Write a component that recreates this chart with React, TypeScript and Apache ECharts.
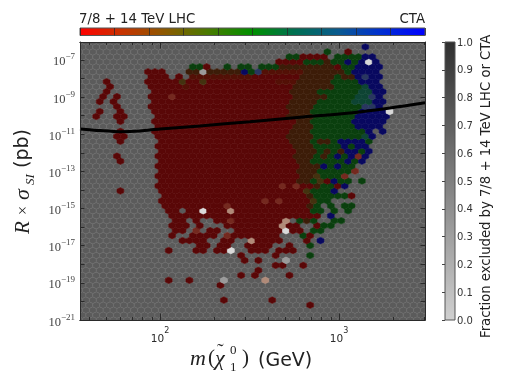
import React, { useEffect, useRef } from "react";
import * as echarts from "echarts";

// Fraction classes of a hexagonal bin ('.' is an empty bin)
const binColours: Record<string, string> = {
  ".": "#5b5b5b", r: "#590707", m: "#531006", d: "#3c1c08", o: "#43320f", g: "#0a3f0e",
  t: "#0e4434", n: "#08085f", s: "#293660", w: "#d9d9d9", l: "#9a9a9a", p: "#b08a78", q: "#74291f",
};

// Bins: lattice row (0 = bottom), then runs of columns and their class
const binRows: [number, string][] = [
  [55, "41n"],
  [54, "36g 39r"],
  [53, "30-31g 32-35r 37-40g 41-42n"],
  [52, "29-32r 33-35g 36d 37-38g 39n 40g 41n 42w 43n"],
  [51, "16-17g 18r 21g 23-24g 26-28g 29-36d 37r 38-39g 40-43n"],
  [50, "10-12r 16-17d 18l 19-23d 24n 25g 26s 27-32m 33-38d 39g 40-43n"],
  [49, "10-12r 14r 16-24m 25-31r 32-36d 37g 38d 39d 40n 41s 42-43n"],
  [48, "4r 10-14r 15o 16-17r 18o 19-28r 29-31m 32-36d 37-40g 41-43n"],
  [47, "4r 10-14r 15m 16-30r 31-36d 37-40g 41t 42-43n"],
  [46, "4r 11-30r 31-34d 35-40g 41-42t 43-44n"],
  [45, "3r 5r 10-12r 13q 14-30r 31-35d 36-39g 40-41t 42s 43n"],
  [44, "3r 5r 11-30r 31-34d 35-39g 40-42t 43-44n"],
  [43, "5r 10-29r 30-33d 34-40g 41-42s 43n"],
  [42, "3r 6r 11-30r 31-33d 34-40g 41-44n 45w"],
  [41, "2r 5-6r 11-29r 30-33d 34-39g 40-44n"],
  [40, "6r 11-31r 32-33d 34-39g 40-44n"],
  [39, "11-30r 31-33d 34-39g 40-43n"],
  [38, "6r 11-30r 31-33d 34-41g 42n 44n"],
  [37, "5-6r 11-29r 30-33d 34-40g 41t 42n"],
  [36, "6r 12-30r 31-33d 34g 35-36d 37g 38-41n 42g"],
  [35, "11-30r 31-33d 34-37g 38n 39g 40-41n"],
  [34, "12-31r 32-34d 35g 36d 37g 38d 39-40n 41g 42n"],
  [33, "5r 11-30r 31-33d 34g 35d 36g 37n 38g 39n 40q 41n"],
  [32, "6r 12-31r 32-33d 34-38g 39n 40g 41n"],
  [31, "11-31r 32-34d 35n 36g 37n 38-39g"],
  [30, "12-31r 32-34d 35-39g 40q"],
  [29, "11-31r 32-33d 34o 35-37g 38q"],
  [28, "12-31r 32-33d 34g 35o 36r 37n 38-39g 41g"],
  [27, "11-28r 29q 30r 31q 32-33r 34d 35-36g 37r 38n"],
  [26, "6r 12-32r 33o 34-36g 37n"],
  [25, "12-32r 33d 34-38g 39r"],
  [24, "12-26r 27q 28r 29q 30-33r 34o 35-36g"],
  [23, "12-20r 21q 22-32r 33d 34g 36g 38-39g"],
  [22, "13-14r 16-17r 18w 19-21r 22p 23-33r 34-35g 37g 39g"],
  [21, "13-34r 36n"],
  [20, "14-15r 17r 20-21r 22q 23-29r 30p 32g 33d 34g 37-38g"],
  [19, "13-15r 17r 21-28r 29p 30-31r 34r 35-36g"],
  [18, "14-15r 17q 19-20r 23-29r 30w 31-32r 34-35g"],
  [17, "13r 16-19r 21q 22-28r 32g 33r"],
  [16, "15-18r 21-22r 25p 26-29r 33r 35n"],
  [15, "17-18r 20-21r 24-27r 30r 33g"],
  [14, "13r 17-18r 20-21r 22w 25-27r 29-31r"],
  [13, "23r 28r 33g"],
  [12, "24r 26r 30l"],
  [11, "28-29r 32r"],
  [10, "26r"],
  [9, "23r 25r 30r"],
  [8, "13r 16r 21l 27p"],
  [7, "20r"],
  [4, "21r 28r"],
  [3, "33r"],
];

// Exclusion limit curve: mass (GeV), log10 of R x sigma (pb)
const limitMass = [35.7, 46.2, 59.8, 77.3, 100, 167, 318, 605, 1151, 1928, 3020];
const limitLogSigma = [-10.71, -10.8, -10.86, -10.82, -10.71, -10.55, -10.32, -10.08, -9.85, -9.58, -9.3];

const massMajorTicks = [100, 1000];
const massMinorTicks = [40, 50, 60, 70, 80, 90, 200, 300, 400, 500, 600, 700, 800, 900, 2000, 3000];
const sigmaTicks = [1e-7, 1e-8, 1e-9, 1e-10, 1e-11, 1e-12, 1e-13, 1e-14, 1e-15, 1e-16, 1e-17, 1e-18, 1e-19, 1e-20, 1e-21];
const sigmaLabels = [1e-7, 1e-9, 1e-11, 1e-13, 1e-15, 1e-17, 1e-19, 1e-21];

const MASS_MIN = 35.7, MASS_MAX = 3020, SIGMA_MIN = 1e-21, SIGMA_MAX = 9.3e-7;
const COLS = 50, LATTICE_ROWS = 28;

const SANS = "DejaVu Sans", SERIF = "Liberation Serif";
const INK = "#2a2a2a";

function buildBins() {
  const lookup = new Map<string, string>();
  for (const [row, spec] of binRows) {
    for (const run of spec.split(" ")) {
      const m = run.match(/^(\d+)(?:-(\d+))?([a-z])$/)!;
      const a = +m[1], b = m[2] ? +m[2] : a;
      for (let c = a; c <= b; c++) lookup.set(row + ":" + c, m[3]);
    }
  }
  const lx0 = Math.log10(MASS_MIN) - 1 / 179, lxs = (Math.log10(MASS_MAX) - Math.log10(MASS_MIN)) / COLS;
  const ly0 = Math.log10(SIGMA_MIN), lys = (Math.log10(SIGMA_MAX) - ly0) / (LATTICE_ROWS * 2);
  const cells: [number, number, string][] = [];
  for (let row = 0; row <= LATTICE_ROWS * 2; row++) {
    for (let c = 0; c <= COLS; c++) {
      const key = lookup.get(row + ":" + c) ?? ".";
      cells.push([10 ** (lx0 + (c + (row % 2) * 0.5) * lxs), 10 ** (ly0 + row * lys), key]);
    }
  }
  // empty bins first so that coloured ones sit on top
  return cells.sort((a, b) => (a[2] === "." ? 0 : 1) - (b[2] === "." ? 0 : 1));
}

function massAxis(position: string, values: number[], length: number, labelled: boolean) {
  return {
    type: "log", logBase: 10, gridIndex: 0, position, min: MASS_MIN, max: MASS_MAX, z: 6,
    axisLine: { show: true, onZero: false, lineStyle: { color: INK, width: 1 } },
    axisTick: { show: true, inside: true, length, customValues: values, lineStyle: { color: INK, width: 1 } },
    minorTick: { show: false }, splitLine: { show: false },
    axisLabel: labelled
      ? {
          show: true, customValues: values, margin: 6, hideOverlap: false,
          formatter: (v: number) => `{b|10}{s|${Math.round(Math.log10(v))}}`,
          rich: {
            b: { fontFamily: SANS, fontSize: 10.5, color: INK, lineHeight: 17, verticalAlign: "bottom" },
            s: { fontFamily: SANS, fontSize: 8, color: INK, lineHeight: 17, verticalAlign: "top" },
          },
        }
      : { show: false },
  };
}

function sigmaAxis(position: string, labelled: boolean) {
  return {
    type: "log", logBase: 10, gridIndex: 0, position, min: SIGMA_MIN, max: SIGMA_MAX, z: 6,
    axisLine: { show: true, onZero: false, lineStyle: { color: INK, width: 1 } },
    axisTick: { show: true, inside: true, length: 4.5, customValues: sigmaTicks, lineStyle: { color: INK, width: 1 } },
    minorTick: { show: false }, splitLine: { show: false },
    axisLabel: labelled
      ? {
          show: true, customValues: sigmaLabels, margin: 5, hideOverlap: false, align: "right",
          formatter: (v: number) => `{b|10}{s|\u2212${Math.abs(Math.round(Math.log10(v)))}}`,
          rich: {
            b: { fontFamily: SERIF, fontSize: 12.5, color: "#444", lineHeight: 16, verticalAlign: "bottom" },
            s: { fontFamily: SERIF, fontSize: 9, color: "#444", lineHeight: 16, verticalAlign: "top" },
          },
        }
      : { show: false },
  };
}

let binKeys: string[] = [];

function renderHex(params: any, api: any) {
  const p = api.coord([api.value(0), api.value(1)]);
  const sx = params.coordSys.width / COLS, sy = params.coordSys.height / LATTICE_ROWS;
  const code = binKeys[params.dataIndex];
  const fill = binColours[code] ?? binColours["."];
  return {
    type: "polygon",
    shape: {
      points: [
        [p[0] + sx / 2, p[1] + sy / 6], [p[0] + sx / 2, p[1] - sy / 6], [p[0], p[1] - sy / 3],
        [p[0] - sx / 2, p[1] - sy / 6], [p[0] - sx / 2, p[1] + sy / 6], [p[0], p[1] + sy / 3],
      ],
    },
    style: { fill, stroke: code === "." ? "#6b6b6b" : fill, lineWidth: 0.6 },
  };
}

export default function App() {
  const ref = useRef<HTMLDivElement>(null);
  useEffect(() => {
    document.body.style.margin = "0";
    document.body.style.background = "#fff";
    const chart = echarts.init(ref.current!, undefined, { renderer: "svg" });
    const cells = buildBins();
    binKeys = cells.map((c) => c[2]);

    const title = (text: string, x: number, y: number, extra: any = {}) => ({
      type: "text", x, y, silent: true,
      style: { text, fontFamily: SANS, fontSize: 12, fill: "#222", ...extra },
    });

    chart.setOption({
      animation: false,
      backgroundColor: "#fff",
      grid: [
        { left: 80, top: 42, width: 345, height: 278, containLabel: false },
        {
          left: 80, top: 28, width: 345, height: 7.5, show: true, borderColor: "#555", borderWidth: 1,
          backgroundColor: new echarts.graphic.LinearGradient(0, 0, 1, 0, [
            { offset: 0, color: "#ff0000" }, { offset: 0.12, color: "#c83200" },
            { offset: 0.25, color: "#8a5a00" }, { offset: 0.37, color: "#4a7a00" },
            { offset: 0.5, color: "#009000" }, { offset: 0.62, color: "#007050" },
            { offset: 0.75, color: "#0a5a90" }, { offset: 0.87, color: "#0030d0" },
            { offset: 1, color: "#0000ff" },
          ]),
        },
        {
          left: 445, top: 42, width: 10, height: 278, show: true, borderColor: "#555", borderWidth: 1,
          backgroundColor: new echarts.graphic.LinearGradient(0, 0, 0, 1, [
            { offset: 0, color: "#2f2f2f" }, { offset: 1, color: "#d0d0d0" },
          ]),
        },
      ],
      xAxis: [
        massAxis("bottom", massMajorTicks, 6.5, true),
        massAxis("bottom", massMinorTicks, 3, false),
        massAxis("top", massMajorTicks, 6.5, false),
        massAxis("top", massMinorTicks, 3, false),
        {
          type: "value", gridIndex: 1, min: 0, max: 1, interval: 0.1,
          axisLine: { show: false }, axisTick: { show: false }, axisLabel: { show: false },
          splitLine: { show: true, lineStyle: { color: "rgba(40,40,40,0.75)", width: 1 } },
        },
        { type: "value", gridIndex: 2, show: false, min: 0, max: 1 },
      ],
      yAxis: [
        sigmaAxis("left", true),
        sigmaAxis("right", false),
        { type: "value", gridIndex: 1, show: false, min: 0, max: 1 },
        {
          type: "value", gridIndex: 2, position: "right", min: 0, max: 1, interval: 0.1,
          axisLine: { show: false }, splitLine: { show: false },
          axisTick: { show: true, inside: true, length: 3, lineStyle: { color: "#444" } },
          axisLabel: {
            show: true, margin: 2, color: "#333", fontFamily: SANS, fontSize: 10,
            formatter: (v: number) => v.toFixed(1),
          },
        },
      ],
      series: [
        {
          type: "custom", xAxisIndex: 0, yAxisIndex: 0, coordinateSystem: "cartesian2d", clip: true, z: 2,
          renderItem: renderHex, silent: true,
          data: cells.map((c) => [c[0], c[1]]),
        },
        {
          type: "line", xAxisIndex: 0, yAxisIndex: 0, z: 4, smooth: 0.3, symbol: "none", silent: true, clip: true,
          lineStyle: { color: "#000", width: 3 },
          data: limitMass.map((m, i) => [m, 10 ** limitLogSigma[i]]),
        },
      ],
      graphic: [
        title("7/8 + 14 TeV LHC", 79, 12, { fontSize: 13.3 }),
        title("CTA", 425, 12, { fontSize: 13.3, align: "right" }),
        {
          type: "text", x: 478.5, y: 338, rotation: Math.PI / 2, silent: true,
          style: { text: "Fraction excluded by 7/8 + 14 TeV LHC or CTA", fontFamily: SANS, fontSize: 13.2, fill: "#222" },
        },
        {
          type: "group", silent: true,
          children: [
            title("m", 190, 346, { fontFamily: SERIF, fontStyle: "italic", fontSize: 22 }),
            title("(", 208, 346, { fontFamily: SERIF, fontSize: 21 }),
            title("\u03C7", 215, 346, { fontFamily: SERIF, fontStyle: "italic", fontSize: 22 }),
            title("\u02DC", 217, 341, { fontFamily: SERIF, fontSize: 20 }),
            title("0", 230, 343, { fontFamily: SERIF, fontSize: 13 }),
            title("1", 230, 360, { fontFamily: SERIF, fontSize: 13 }),
            title(")", 242, 346, { fontFamily: SERIF, fontSize: 21 }),
            title("(GeV)", 258, 349, { fontSize: 19 }),
          ],
        },
        {
          type: "group", x: 11, y: 234, rotation: Math.PI / 2, silent: true,
          children: [
            title("R", 0, 0, { fontFamily: SERIF, fontStyle: "italic", fontSize: 21 }),
            title("\u00D7", 19, 3, { fontFamily: SERIF, fontSize: 16 }),
            title("\u03C3", 34, -1, { fontFamily: SERIF, fontStyle: "italic", fontSize: 22 }),
            title("SI", 49, 12, { fontFamily: SERIF, fontStyle: "italic", fontSize: 13 }),
            title("(pb)", 66, 0, { fontSize: 19 }),
          ],
        },
      ],
    });
    return () => chart.dispose();
  }, []);
  return <div ref={ref} style={{ position: "fixed", left: 0, top: 0, width: 517, height: 382, filter: "blur(0.45px)" }} />;
}
